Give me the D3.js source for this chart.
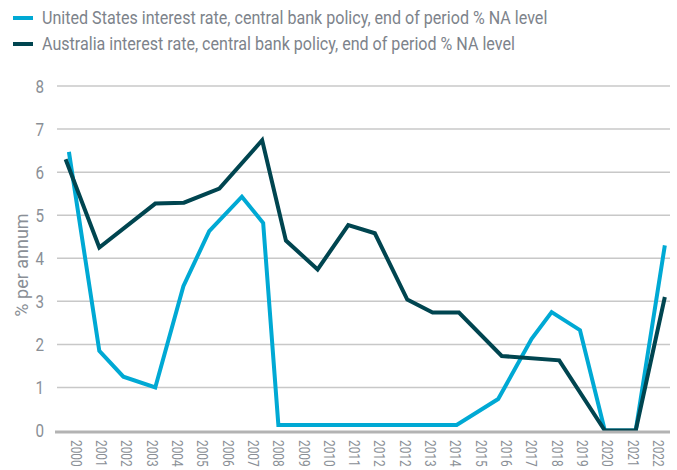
<!DOCTYPE html>
<html>
<head>
<meta charset="utf-8">
<script src="https://cdn.jsdelivr.net/npm/d3@7"></script>
<style>
  body { margin: 0; background: #fff; }
  svg text { font-family: Roboto, "Liberation Sans", sans-serif; }
</style>
</head>
<body>
<svg id="chart" width="677" height="470"></svg>
<script>
// x tick labels as shown (2012 appears twice in the source)
const yearLabels = ["2000","2001","2002","2003","2004","2005","2006","2007","2008","2009","2010","2011",
  "2012","2012","2013","2014","2015","2016","2017","2018","2019","2020","2021","2022"];

// points: [position on label index axis, % per annum]
const usRate = [
  [-0.26, 6.47], [0.94, 1.85], [1.89, 1.25], [3.15, 1.0], [4.26, 3.35], [5.28, 4.63],
  [6.57, 5.43], [7.41, 4.82], [8.01, 0.13], [15.05, 0.13], [16.69, 0.73], [18.01, 2.13],
  [18.80, 2.75], [19.92, 2.33], [20.90, 0], [22.12, 0], [23.27, 4.3]
];
const auRate = [
  [-0.39, 6.3], [0.94, 4.25], [3.15, 5.27], [4.28, 5.29], [5.68, 5.62], [7.37, 6.74],
  [8.31, 4.41], [9.56, 3.74], [10.77, 4.77], [11.82, 4.58], [13.10, 3.04], [14.10, 2.74],
  [15.14, 2.74], [16.83, 1.73], [19.10, 1.63], [20.90, 0], [22.12, 0], [23.27, 3.1]
];
const yTicks = [0, 1, 2, 3, 4, 5, 6, 7, 8];

const series = [
  { name: "United States interest rate, central bank policy, end of period % NA level", color: "#00a9d4", data: usRate },
  { name: "Australia interest rate, central bank policy, end of period % NA level", color: "#004550", data: auRate }
];

const svg = d3.select("#chart");

const x = d3.scaleLinear().domain([0, yearLabels.length - 1]).range([75.5, 658]);
const y = d3.scaleLinear().domain([0, 8]).range([430.5, 86]);

// gridlines
svg.append("g")
  .selectAll("line")
  .data(yTicks.filter(d => d > 0))
  .enter()
  .append("line")
  .attr("x1", 57).attr("x2", 670)
  .attr("y1", d => y(d)).attr("y2", d => y(d))
  .attr("stroke", "#c8c8c8")
  .attr("stroke-width", 1.5);

// y axis labels (no condensed font installed, so squeeze glyphs)
const yAxis = svg.append("g")
  .attr("transform", "translate(44,0)")
  .call(d3.axisLeft(y).tickValues(yTicks).tickSize(0).tickPadding(0));
yAxis.select(".domain").remove();
yAxis.selectAll("text")
  .attr("fill", "#8a8f96")
  .attr("transform", "scale(0.8,1)")
  .style("font-size", "19px");

svg.append("text")
  .attr("transform", "translate(22,265) rotate(-90)")
  .attr("text-anchor", "middle")
  .attr("dy", "0.35em")
  .attr("fill", "#8a8f96")
  .style("font-size", "18px")
  .text("% per annum");

// lines
const line = d3.line()
  .x(d => x(d[0]))
  .y(d => y(d[1]));

svg.append("g")
  .selectAll("path")
  .data(series)
  .enter()
  .append("path")
  .attr("d", d => line(d.data))
  .attr("fill", "none")
  .attr("stroke", d => d.color)
  .attr("stroke-width", 4)
  .attr("stroke-linejoin", "miter");

// zero axis line
svg.append("line")
  .attr("x1", 55).attr("x2", 670)
  .attr("y1", y(0) + 1.5).attr("y2", y(0) + 1.5)
  .attr("stroke", "#b3b3b3")
  .attr("stroke-width", 3);

// x labels, rotated
svg.append("g")
  .selectAll("text")
  .data(yearLabels)
  .enter()
  .append("text")
  .attr("transform", (d, i) => `translate(${x(i)},440) rotate(90) scale(0.85,1)`)
  .attr("dy", "0.35em")
  .attr("fill", "#8a8f96")
  .style("font-size", "14px")
  .text(d => d);

// legend
const legend = svg.append("g")
  .selectAll("g")
  .data(series)
  .enter()
  .append("g")
  .attr("transform", (d, i) => `translate(13,${18 + i * 26})`);

legend.append("line")
  .attr("x1", 0).attr("x2", 20)
  .attr("stroke", d => d.color)
  .attr("stroke-width", 4);

legend.append("text")
  .attr("transform", "translate(29,0) scale(0.87,1)")
  .attr("dy", "0.35em")
  .attr("fill", "#7d838b")
  .style("font-size", "18.5px")
  .text(d => d.name);
</script>
</body>
</html>
